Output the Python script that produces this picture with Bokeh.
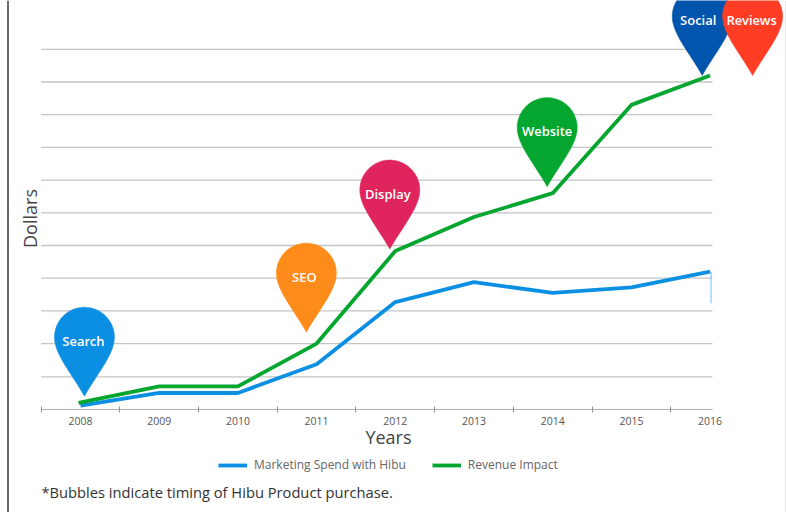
import numpy as np
from bokeh.plotting import figure
from bokeh.models import Range1d, LinearAxis, FixedTicker, Legend, LegendItem, Label
from bokeh.embed import file_html
from bokeh.resources import INLINE

years = [2008, 2009, 2010, 2011, 2012, 2013, 2014, 2015, 2016]
spend = [0.1, 0.49, 0.49, 1.37, 3.27, 3.88, 3.55, 3.72, 4.2]
impact = [0.19, 0.69, 0.69, 2.0, 4.83, 5.87, 6.6, 9.3, 10.2]
gridlines = [0.98, 2, 3, 4, 5, 6, 7, 8, 9, 10, 11]
pin_names = ["Search", "SEO", "Display", "Website", "Social", "Reviews"]
pin_years = [2008.05, 2010.87, 2011.93, 2013.93, 2015.9, 2016.54]
pin_values = [0.39, 2.35, 4.89, 6.8, 10.2, 10.2]
pin_colors = ["#0b8fe3", "#ff8c1a", "#e0245e", "#04a62f", "#0255ac", "#ff3d24"]
BLUE = "#0b8fe3"
GREEN = "#04a62f"

W, H = 786, 512
PX_X = 78.7   # pixels per year
PX_Y = 32.7   # pixels per value unit
X0, Y0 = 80.0, 408.5  # pixel of year 2008 / value 0


def dx(px):
    return np.asarray(px) / PX_X


def dy(px):
    return np.asarray(px) / PX_Y


p = figure(width=W, height=H, output_backend="svg", toolbar_location=None,
           x_range=Range1d(2008 - X0 / PX_X, 2008 + (W - X0) / PX_X),
           y_range=Range1d(-(H - Y0) / PX_Y, Y0 / PX_Y),
           x_axis_location=None, y_axis_location=None,
           min_border=0, min_border_left=0, min_border_right=0,
           min_border_top=0, min_border_bottom=0, margin=(0, 0, 0, 0))
p.outline_line_color = None
p.xgrid.visible = False
p.ygrid.visible = False

x_left = 2008 - (X0 - 7.5) / PX_X
x_right = 2008 + (785.5 - X0) / PX_X
p.line([x_left, x_left], [p.y_range.start, p.y_range.end], line_color="#000000", line_width=1.2)
p.line([x_right, x_right], [p.y_range.start, p.y_range.end], line_color="#c8c8c8", line_width=1)

x_a, x_b = 2007.5, 2016.03
for g in gridlines:
    p.line([x_a, x_b], [g, g], line_color="#c4c4c4", line_width=1.3)

p.line([years[-1] + 0.012] * 2, [spend[-1], 3.23], line_color="#6dbdf0", line_width=1)

r1 = p.line(years, spend, line_color=BLUE, line_width=3.8)
r2 = p.line(np.array(years) - np.array([0.025] + [0] * 8), impact, line_color=GREEN, line_width=3.8)

ax = LinearAxis(ticker=FixedTicker(ticks=years, minor_ticks=[y - 0.5 for y in years]),
                fixed_location=0, bounds=(x_a, x_b))
ax.axis_line_color = "#b0b0b0"
ax.axis_line_width = 1
ax.major_tick_line_color = None
ax.minor_tick_line_color = "#909090"
ax.minor_tick_in = 3
ax.minor_tick_out = 3
ax.major_label_standoff = 2
ax.major_label_text_font = "Open Sans"
ax.major_label_text_font_size = "10.5px"
ax.major_label_text_color = "#555555"
p.add_layout(ax, "below")

t = np.linspace(np.pi, 0, 50)
cx, cy, R = 0, 59, 30
arc_x, arc_y = cx + R * np.cos(t), cy + R * np.sin(t)
u = np.linspace(0, 1, 24)
bez = lambda a, b, c, d: (1-u)**3*a + 3*(1-u)**2*u*b + 3*(1-u)*u**2*c + u**3*d
rx, ry = bez(30, 30, 13, 0), bez(59, 42, 23, 0)
shape_x = np.concatenate([arc_x, rx, -rx[::-1]])
shape_y = np.concatenate([arc_y, ry, ry[::-1]])

p.patches([y + dx(shape_x) for y in pin_years], [v + dy(shape_y) for v in pin_values],
          fill_color=pin_colors, line_color=pin_colors, line_width=0.5)
label_dx = [-1, -2, -2, 0, -4, -1]
p.text([y + dx(o) for y, o in zip(pin_years, label_dx)],
       [v + dy(55.5) for v in pin_values], text=pin_names,
       text_color="#ffffff", text_font={"value": "Open Sans SemiBold"},
       text_font_size="13px", text_align="center", text_baseline="middle")

legend = Legend(items=[LegendItem(label="Marketing Spend with Hibu", renderers=[r1]),
                       LegendItem(label="Revenue Impact", renderers=[r2])],
                orientation="horizontal", location=(218, 39),
                border_line_color=None, background_fill_alpha=0,
                label_text_font="Open Sans", label_text_font_size="12px",
                label_text_color="#666666", glyph_width=29, glyph_height=14,
                label_standoff=7, spacing=26, padding=0, margin=0)
p.add_layout(legend, "center")

p.add_layout(Label(x=388, y=H - 436, x_units="screen", y_units="screen", text="Years",
                   text_font="Open Sans", text_font_size="18px", text_color="#444444",
                   text_align="center", text_baseline="middle"))
p.add_layout(Label(x=29, y=H - 218, x_units="screen", y_units="screen", text="Dollars",
                   angle=90, angle_units="deg", text_font="Open Sans", text_font_size="18px",
                   text_color="#444444", text_align="center", text_baseline="middle"))
p.add_layout(Label(x=41, y=H - 491.5, x_units="screen", y_units="screen",
                   text="*Bubbles indicate timing of Hibu Product purchase.",
                   text_font="Open Sans", text_font_size="14.7px", text_color="#333333",
                   text_align="left", text_baseline="middle"))

open("out.html", "w").write(file_html(p, INLINE))
